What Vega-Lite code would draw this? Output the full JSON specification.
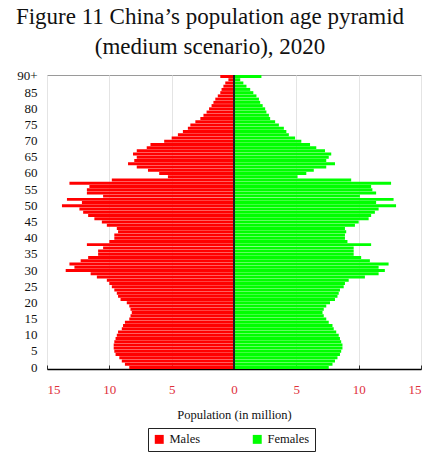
{
  "$schema": "https://vega.github.io/schema/vega-lite/v6.json",
  "width": 374,
  "height": 294,
  "autosize": {"type": "none"},
  "padding": {"left": 47, "top": 75, "right": 4, "bottom": 84},
  "background": "white",
  "title": {
    "text": ["Figure 11 China’s population age pyramid", "(medium scenario), 2020"],
    "font": "Liberation Serif",
    "fontSize": 23,
    "fontWeight": "normal",
    "color": "#111",
    "lineHeight": 30,
    "anchor": "middle",
    "dx": -24,
    "offset": 11
  },
  "config": {
    "view": {"stroke": "#9a9a9a", "strokeWidth": 1},
    "font": "Liberation Serif",
    "axis": {"labelFont": "Liberation Serif, Times New Roman, serif", "titleFont": "Liberation Serif, Times New Roman, serif"},
    "legend": {"labelFont": "Liberation Serif, Times New Roman, serif", "titleFont": "Liberation Serif, Times New Roman, serif"}
  },
  "data": {
    "values": [
      {"age": 0, "sex": "Males", "population": -8.4}, {"age": 1, "sex": "Males", "population": -8.75}, {"age": 2, "sex": "Males", "population": -9.0}, {"age": 3, "sex": "Males", "population": -9.2}, {"age": 4, "sex": "Males", "population": -9.5},
      {"age": 5, "sex": "Males", "population": -9.6}, {"age": 6, "sex": "Males", "population": -9.65}, {"age": 7, "sex": "Males", "population": -9.65}, {"age": 8, "sex": "Males", "population": -9.6}, {"age": 9, "sex": "Males", "population": -9.5},
      {"age": 10, "sex": "Males", "population": -9.4}, {"age": 11, "sex": "Males", "population": -9.3}, {"age": 12, "sex": "Males", "population": -9.0}, {"age": 13, "sex": "Males", "population": -8.9}, {"age": 14, "sex": "Males", "population": -8.75},
      {"age": 15, "sex": "Males", "population": -8.4}, {"age": 16, "sex": "Males", "population": -8.3}, {"age": 17, "sex": "Males", "population": -8.2}, {"age": 18, "sex": "Males", "population": -8.3}, {"age": 19, "sex": "Males", "population": -8.4},
      {"age": 20, "sex": "Males", "population": -8.6}, {"age": 21, "sex": "Males", "population": -9.1}, {"age": 22, "sex": "Males", "population": -9.3}, {"age": 23, "sex": "Males", "population": -9.4}, {"age": 24, "sex": "Males", "population": -9.6},
      {"age": 25, "sex": "Males", "population": -9.8}, {"age": 26, "sex": "Males", "population": -10.0}, {"age": 27, "sex": "Males", "population": -10.2}, {"age": 28, "sex": "Males", "population": -11.0}, {"age": 29, "sex": "Males", "population": -11.5},
      {"age": 30, "sex": "Males", "population": -13.5}, {"age": 31, "sex": "Males", "population": -12.8}, {"age": 32, "sex": "Males", "population": -13.2}, {"age": 33, "sex": "Males", "population": -12.3}, {"age": 34, "sex": "Males", "population": -11.7},
      {"age": 35, "sex": "Males", "population": -10.9}, {"age": 36, "sex": "Males", "population": -10.9}, {"age": 37, "sex": "Males", "population": -10.5}, {"age": 38, "sex": "Males", "population": -11.8}, {"age": 39, "sex": "Males", "population": -10.0},
      {"age": 40, "sex": "Males", "population": -9.6}, {"age": 41, "sex": "Males", "population": -9.6}, {"age": 42, "sex": "Males", "population": -9.3}, {"age": 43, "sex": "Males", "population": -9.4}, {"age": 44, "sex": "Males", "population": -10.2},
      {"age": 45, "sex": "Males", "population": -10.6}, {"age": 46, "sex": "Males", "population": -11.2}, {"age": 47, "sex": "Males", "population": -11.7}, {"age": 48, "sex": "Males", "population": -12.1}, {"age": 49, "sex": "Males", "population": -12.4},
      {"age": 50, "sex": "Males", "population": -13.8}, {"age": 51, "sex": "Males", "population": -12.2}, {"age": 52, "sex": "Males", "population": -13.4}, {"age": 53, "sex": "Males", "population": -10.5}, {"age": 54, "sex": "Males", "population": -11.8},
      {"age": 55, "sex": "Males", "population": -11.8}, {"age": 56, "sex": "Males", "population": -11.6}, {"age": 57, "sex": "Males", "population": -13.2}, {"age": 58, "sex": "Males", "population": -9.8}, {"age": 59, "sex": "Males", "population": -5.3},
      {"age": 60, "sex": "Males", "population": -6.0}, {"age": 61, "sex": "Males", "population": -6.9}, {"age": 62, "sex": "Males", "population": -7.8}, {"age": 63, "sex": "Males", "population": -8.5}, {"age": 64, "sex": "Males", "population": -8.0},
      {"age": 65, "sex": "Males", "population": -7.8}, {"age": 66, "sex": "Males", "population": -8.1}, {"age": 67, "sex": "Males", "population": -7.8}, {"age": 68, "sex": "Males", "population": -7.0}, {"age": 69, "sex": "Males", "population": -6.7},
      {"age": 70, "sex": "Males", "population": -5.6}, {"age": 71, "sex": "Males", "population": -5.0}, {"age": 72, "sex": "Males", "population": -4.5}, {"age": 73, "sex": "Males", "population": -4.1}, {"age": 74, "sex": "Males", "population": -3.7},
      {"age": 75, "sex": "Males", "population": -3.5}, {"age": 76, "sex": "Males", "population": -3.1}, {"age": 77, "sex": "Males", "population": -2.7}, {"age": 78, "sex": "Males", "population": -2.45}, {"age": 79, "sex": "Males", "population": -2.2},
      {"age": 80, "sex": "Males", "population": -2.0}, {"age": 81, "sex": "Males", "population": -1.8}, {"age": 82, "sex": "Males", "population": -1.65}, {"age": 83, "sex": "Males", "population": -1.5}, {"age": 84, "sex": "Males", "population": -1.3},
      {"age": 85, "sex": "Males", "population": -1.1}, {"age": 86, "sex": "Males", "population": -1.0}, {"age": 87, "sex": "Males", "population": -0.85}, {"age": 88, "sex": "Males", "population": -0.7}, {"age": 89, "sex": "Males", "population": -0.45},
      {"age": 90, "sex": "Males", "population": -1.1},
      {"age": 0, "sex": "Females", "population": 7.6}, {"age": 1, "sex": "Females", "population": 7.9}, {"age": 2, "sex": "Females", "population": 8.1}, {"age": 3, "sex": "Females", "population": 8.3}, {"age": 4, "sex": "Females", "population": 8.5},
      {"age": 5, "sex": "Females", "population": 8.6}, {"age": 6, "sex": "Females", "population": 8.7}, {"age": 7, "sex": "Females", "population": 8.7}, {"age": 8, "sex": "Females", "population": 8.6}, {"age": 9, "sex": "Females", "population": 8.5},
      {"age": 10, "sex": "Females", "population": 8.4}, {"age": 11, "sex": "Females", "population": 8.2}, {"age": 12, "sex": "Females", "population": 8.0}, {"age": 13, "sex": "Females", "population": 7.9}, {"age": 14, "sex": "Females", "population": 7.6},
      {"age": 15, "sex": "Females", "population": 7.4}, {"age": 16, "sex": "Females", "population": 7.2}, {"age": 17, "sex": "Females", "population": 7.1}, {"age": 18, "sex": "Females", "population": 7.2}, {"age": 19, "sex": "Females", "population": 7.4},
      {"age": 20, "sex": "Females", "population": 7.7}, {"age": 21, "sex": "Females", "population": 8.1}, {"age": 22, "sex": "Females", "population": 8.3}, {"age": 23, "sex": "Females", "population": 8.4}, {"age": 24, "sex": "Females", "population": 8.5},
      {"age": 25, "sex": "Females", "population": 8.8}, {"age": 26, "sex": "Females", "population": 8.9}, {"age": 27, "sex": "Females", "population": 9.2}, {"age": 28, "sex": "Females", "population": 10.5}, {"age": 29, "sex": "Females", "population": 11.6},
      {"age": 30, "sex": "Females", "population": 12.1}, {"age": 31, "sex": "Females", "population": 11.6}, {"age": 32, "sex": "Females", "population": 12.4}, {"age": 33, "sex": "Females", "population": 10.9}, {"age": 34, "sex": "Females", "population": 10.2},
      {"age": 35, "sex": "Females", "population": 9.6}, {"age": 36, "sex": "Females", "population": 9.6}, {"age": 37, "sex": "Females", "population": 9.6}, {"age": 38, "sex": "Females", "population": 11.0}, {"age": 39, "sex": "Females", "population": 9.1},
      {"age": 40, "sex": "Females", "population": 8.9}, {"age": 41, "sex": "Females", "population": 8.9}, {"age": 42, "sex": "Females", "population": 9.0}, {"age": 43, "sex": "Females", "population": 8.9}, {"age": 44, "sex": "Females", "population": 9.7},
      {"age": 45, "sex": "Females", "population": 10.0}, {"age": 46, "sex": "Females", "population": 10.8}, {"age": 47, "sex": "Females", "population": 11.0}, {"age": 48, "sex": "Females", "population": 11.3}, {"age": 49, "sex": "Females", "population": 11.6},
      {"age": 50, "sex": "Females", "population": 13.0}, {"age": 51, "sex": "Females", "population": 11.4}, {"age": 52, "sex": "Females", "population": 12.8}, {"age": 53, "sex": "Females", "population": 10.1}, {"age": 54, "sex": "Females", "population": 11.4},
      {"age": 55, "sex": "Females", "population": 11.1}, {"age": 56, "sex": "Females", "population": 11.0}, {"age": 57, "sex": "Females", "population": 12.6}, {"age": 58, "sex": "Females", "population": 9.4}, {"age": 59, "sex": "Females", "population": 5.1},
      {"age": 60, "sex": "Females", "population": 5.8}, {"age": 61, "sex": "Females", "population": 6.4}, {"age": 62, "sex": "Females", "population": 7.4}, {"age": 63, "sex": "Females", "population": 8.1}, {"age": 64, "sex": "Females", "population": 7.4},
      {"age": 65, "sex": "Females", "population": 7.6}, {"age": 66, "sex": "Females", "population": 7.8}, {"age": 67, "sex": "Females", "population": 7.3}, {"age": 68, "sex": "Females", "population": 6.6}, {"age": 69, "sex": "Females", "population": 6.1},
      {"age": 70, "sex": "Females", "population": 5.4}, {"age": 71, "sex": "Females", "population": 4.9}, {"age": 72, "sex": "Females", "population": 4.4}, {"age": 73, "sex": "Females", "population": 4.2}, {"age": 74, "sex": "Females", "population": 4.0},
      {"age": 75, "sex": "Females", "population": 3.6}, {"age": 76, "sex": "Females", "population": 3.3}, {"age": 77, "sex": "Females", "population": 2.9}, {"age": 78, "sex": "Females", "population": 2.8}, {"age": 79, "sex": "Females", "population": 2.6},
      {"age": 80, "sex": "Females", "population": 2.5}, {"age": 81, "sex": "Females", "population": 2.3}, {"age": 82, "sex": "Females", "population": 2.1}, {"age": 83, "sex": "Females", "population": 2.0}, {"age": 84, "sex": "Females", "population": 1.8},
      {"age": 85, "sex": "Females", "population": 1.55}, {"age": 86, "sex": "Females", "population": 1.3}, {"age": 87, "sex": "Females", "population": 1.0}, {"age": 88, "sex": "Females", "population": 0.75}, {"age": 89, "sex": "Females", "population": 0.5},
      {"age": 90, "sex": "Females", "population": 2.2}
    ]
  },
  "layer": [
    {
      "mark": {"type": "bar", "cornerRadius": 0},
      "encoding": {
        "y": {
          "field": "age",
          "type": "ordinal",
          "sort": "descending",
          "scale": {"paddingInner": 0.08, "paddingOuter": 0},
          "axis": {
            "title": null,
            "values": [0, 5, 10, 15, 20, 25, 30, 35, 40, 45, 50, 55, 60, 65, 70, 75, 80, 85, 90],
            "labelExpr": "datum.value == 90 ? '90+' : datum.label",
            "labelFont": "Liberation Serif, Times New Roman, serif",
            "labelFontSize": 13,
            "labelColor": "#111",
            "labelPadding": 10,
            "ticks": false,
            "domain": false,
            "grid": false
          }
        },
        "x": {
          "field": "population",
          "type": "quantitative",
          "scale": {"domain": [-15, 15], "nice": false},
          "axis": {
            "title": "Population (in million)",
            "titleFont": "Liberation Serif, Times New Roman, serif",
            "titleFontSize": 12.5,
            "titleFontWeight": "normal",
            "titleColor": "#111",
            "titlePadding": 12,
            "values": [-15, -10, -5, 0, 5, 10, 15],
            "labelExpr": "abs(datum.value)",
            "labelFont": "Liberation Serif, Times New Roman, serif",
            "labelFontSize": 13,
            "labelColor": "#e0303a",
            "labelPadding": 18,
            "domain": true,
            "domainColor": "#000",
            "domainWidth": 1.5,
            "ticks": true,
            "tickSize": -4,
            "tickColor": "#333",
            "grid": true,
            "gridColor": "#e4e4e4",
            "gridWidth": 1
          }
        },
        "color": {
          "field": "sex",
          "type": "nominal",
          "scale": {"domain": ["Males", "Females"], "range": ["#ff0000", "#00ff00"]},
          "legend": {
            "title": null,
            "orient": "none",
            "legendX": 101,
            "legendY": 353,
            "direction": "horizontal",
            "strokeColor": "#222",
            "padding": 5,
            "symbolType": "square",
            "symbolSize": 80,
            "symbolStrokeWidth": 0,
            "symbolOpacity": 1,
            "labelFont": "Liberation Serif, Times New Roman, serif",
            "labelFontSize": 12.5,
            "labelColor": "#111",
            "labelOffset": 4,
            "columnPadding": 50,
            "labelExpr": "datum.label == 'Females' ? 'Females\u00a0\u00a0\u00a0\u00a0\u00a0\u00a0\u00a0' : datum.label"
          }
        }
      }
    },
    {
      "mark": {"type": "rule", "color": "#222", "strokeWidth": 1.5},
      "encoding": {"x": {"datum": 0, "type": "quantitative"}}
    }
  ]
}
